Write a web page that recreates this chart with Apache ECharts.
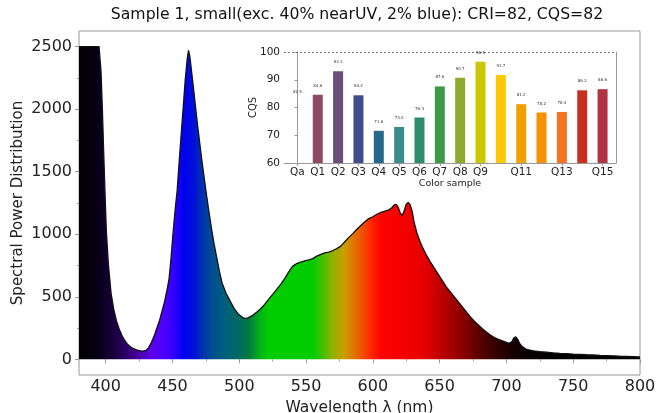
<!DOCTYPE html>
<html><head><meta charset="utf-8">
<script src="https://cdn.jsdelivr.net/npm/echarts@6/dist/echarts.min.js"></script>
<style>html,body{margin:0;padding:0;background:#fff}#c{width:659px;height:413px}</style>
</head><body><div id="c"></div>
<script>
// ---- data ----
const chartTitle = 'Sample 1, small(exc. 40% nearUV, 2% blue): CRI=82, CQS=82';
const wavelengths = [380,385,390,395,396.5,397.5,398.5,399.5,400.5,402,404,406,408,410,412,414,416,418,420,423,426,428,430,432,434,436,438,440,442,444,446,447.5,449,450.5,452,453.5,455,456.5,458,459.5,461,462,463,464.5,466,467.5,469,470.5,472,473.5,475,477,479,481,483,485,487,490,493,496,499,502,504,506,508,510,513,516,519,522,525,528,531,534,537,540,543,546,549,552,555,558,561,564,567,570,573,576,579,582,585,588,591,594,597,600,603,606,609,612,614,616,617.5,619,620.5,622,623.5,625,626.5,628,629.5,631,633,635,637,640,643,646,649,652,655,658,661,664,667,670,673,676,679,682,685,688,691,694,697,700,702,704,705.5,707,708.5,710,712,715,720,725,730,735,740,745,750,755,760,765,770,775,780,785,790,795,800];
const spd = [2500,2500,2500,2500,2300,2000,1650,1320,1020,760,530,400,310,245,195,155,125,105,90,76,68,66,72,92,130,180,240,300,380,460,560,650,820,1020,1200,1350,1580,1800,2010,2230,2400,2470,2420,2280,2140,1990,1850,1720,1590,1470,1350,1200,1060,930,820,710,615,530,470,410,365,338,328,330,340,352,377,405,440,482,520,560,600,645,700,745,765,778,788,795,805,825,840,852,858,870,885,905,940,975,1005,1040,1070,1100,1125,1140,1160,1175,1185,1195,1210,1235,1240,1215,1170,1150,1190,1240,1255,1235,1180,1090,1010,950,900,835,780,730,680,630,580,540,500,460,420,380,340,305,275,245,218,195,175,160,148,135,128,140,170,180,160,125,100,80,68,62,57,52,48,45,42,40,37,35,32,30,28,25,23,21,19];
const xTickLabels = [400,450,500,550,600,650,700,750,800];
const xMinorTicks = [425,475,525,575,625,675,725,775];
const yTickLabels = [0,500,1000,1500,2000,2500];
const yMinorTicks = [250,750,1250,1750,2250];

const cqsCategories = ['Qa','Q1','Q2','Q3','Q4','Q5','Q6','Q7','Q8','Q9','Q10','Q11','Q12','Q13','Q14','Q15'];
const cqsValues = [82.5,84.6,93.1,84.4,71.6,73.0,76.4,87.6,90.7,96.5,91.7,81.2,78.2,78.4,86.2,86.6];
const cqsShownLabels = ['Qa','Q1','Q2','Q3','Q4','Q5','Q6','Q7','Q8','Q9','Q11','Q13','Q15'];
const cqsYTicks = [60,70,80,90,100];
const cqsRefLine = 100;

// ---- styles ----
const barColors = ['rgba(0,0,0,0)','#8c4a64','#6a4f7c','#3e4e8a','#27698a','#3a8c8c','#2c8c6c','#3f9a48','#8eaa2e','#cbc700','#fcc800','#f0a000','#f99000','#f47422','#c83022','#b03444'];
const spectrumColors = [[380,'#000000'],[395,'#08001a'],[405,'#18003a'],[415,'#2c0066'],[425,'#4a00a8'],[435,'#5c00ee'],[445,'#4a00ff'],[452,'#2a00ff'],[458,'#0000f0'],[466,'#0010d8'],[472,'#0030b0'],[480,'#004e90'],[490,'#00607a'],[500,'#006a60'],[507,'#007a40'],[515,'#00b018'],[522,'#00cc00'],[555,'#00cc00'],[562,'#40c000'],[570,'#90b000'],[578,'#c8a000'],[585,'#e07800'],[592,'#f05000'],[600,'#ff2000'],[607,'#ff0000'],[630,'#f00000'],[640,'#e00000'],[650,'#c00000'],[660,'#a00000'],[670,'#800000'],[680,'#5a0000'],[690,'#3a0000'],[700,'#200000'],[710,'#100000'],[725,'#000000'],[800,'#000000']];
const FONT = 'DejaVu Sans';
const X0 = 380, X1 = 800;

const chart = echarts.init(document.getElementById('c'), null, {renderer: 'canvas'});
const gradStops = spectrumColors.map(([w, c]) => ({offset: (w - X0) / (X1 - X0), color: c}));

const option = {
  animation: false,
  backgroundColor: '#fff',
  title: {
    text: chartTitle, left: 357, top: 7, textAlign: 'center', padding: 0,
    textStyle: {fontFamily: FONT, fontSize: 15.7, fontWeight: 'normal', color: '#111'}
  },
  grid: [
    {left: 79, top: 31, width: 561, height: 344, show: true, borderColor: '#999', borderWidth: 1, backgroundColor: 'transparent', containLabel: false, outerBoundsMode: 'none'},
    {left: 284, top: 52, width: 332, height: 111, show: true, borderWidth: 0, backgroundColor: '#fff', z: 3, containLabel: false, outerBoundsMode: 'none'}
  ],
  xAxis: [
    {type: 'value', gridIndex: 0, min: X0, max: X1, position: 'bottom',
     axisLine: {show: false}, splitLine: {show: false},
     axisTick: {show: true, length: 4, lineStyle: {color: '#999'}, customValues: xTickLabels},
     axisLabel: {customValues: xTickLabels, formatter: v => String(v), fontFamily: FONT, fontSize: 16, color: '#222', margin: 4},
     name: 'Wavelength λ (nm)', nameLocation: 'middle', nameGap: 20,
     nameTextStyle: {fontFamily: FONT, fontSize: 15.5, color: '#222'}},
    {type: 'value', gridIndex: 0, min: X0, max: X1, position: 'bottom',
     axisLine: {show: false}, splitLine: {show: false}, axisLabel: {show: false},
     axisTick: {show: true, length: 2, lineStyle: {color: '#999'}, customValues: xMinorTicks}},
    {type: 'value', gridIndex: 1, min: -0.66, max: 15.66, position: 'bottom', z: 4,
     axisLine: {show: true, lineStyle: {color: '#999'}}, splitLine: {show: false},
     axisTick: {show: true, length: 3, lineStyle: {color: '#999'}, customValues: cqsShownLabels.map(l => cqsCategories.indexOf(l))},
     axisLabel: {customValues: cqsShownLabels.map(l => cqsCategories.indexOf(l)), formatter: v => cqsCategories[Math.round(v)],
       fontFamily: FONT, fontSize: 10.5, color: '#222', margin: 4},
     name: 'Color sample', nameLocation: 'middle', nameGap: 15,
     nameTextStyle: {fontFamily: FONT, fontSize: 9.5, color: '#222'}},
  ],
  yAxis: [
    {type: 'value', gridIndex: 0, min: -125, max: 2625, position: 'left',
     axisLine: {show: false}, splitLine: {show: false},
     axisTick: {show: true, length: 4, lineStyle: {color: '#999'}, customValues: yTickLabels},
     axisLabel: {customValues: yTickLabels, formatter: v => String(v), fontFamily: FONT, fontSize: 16, color: '#222', margin: 7},
     name: 'Spectral Power Distribution', nameLocation: 'middle', nameGap: 53, nameMoveOverlap: false,
     nameTextStyle: {fontFamily: FONT, fontSize: 15, color: '#222'}},
    {type: 'value', gridIndex: 0, min: -125, max: 2625, position: 'left',
     axisLine: {show: false}, splitLine: {show: false}, axisLabel: {show: false},
     axisTick: {show: true, length: 2, lineStyle: {color: '#999'}, customValues: yMinorTicks}},
    {type: 'value', gridIndex: 1, min: 60, max: 100, interval: 10, position: 'left', z: 4,
     axisLine: {show: true, lineStyle: {color: '#999'}}, splitLine: {show: false},
     axisTick: {show: true, length: 3, lineStyle: {color: '#999'}},
     axisLabel: {customValues: cqsYTicks, formatter: v => String(v), fontFamily: FONT, fontSize: 10.5, color: '#222', margin: 4},
     name: 'CQS', nameLocation: 'middle', nameGap: 26, nameMoveOverlap: false,
     nameTextStyle: {fontFamily: FONT, fontSize: 10, color: '#222'}},
    {type: 'value', gridIndex: 1, min: 60, max: 100, position: 'right', z: 4,
     axisLine: {show: true, lineStyle: {color: '#999'}}, splitLine: {show: false},
     axisTick: {show: false}, axisLabel: {show: false}}
  ],
  series: [
    {type: 'line', xAxisIndex: 0, yAxisIndex: 0, showSymbol: false, symbol: 'none',
     data: wavelengths.map((w, i) => [w, spd[i]]),
     lineStyle: {color: '#111', width: 1.3},
     areaStyle: {opacity: 1, color: {type: 'linear', x: 0, y: 0, x2: 1, y2: 0, colorStops: gradStops}},
     z: 2},
    {type: 'bar', xAxisIndex: 2, yAxisIndex: 2, barWidth: 10, z: 5,
     data: cqsValues.map((v, i) => ({value: [i, v], itemStyle: {color: barColors[i]}})),
     label: {show: true, position: 'top', distance: 7, fontFamily: FONT, fontSize: 4, color: '#333',
       formatter: p => p.value[1].toFixed(1)},
     markLine: {silent: true, symbol: 'none', label: {show: false},
       lineStyle: {color: '#555', type: [2, 2], width: 0.8},
       data: [{yAxis: cqsRefLine}]}}
  ]
};
chart.setOption(option);
</script>
</body></html>
